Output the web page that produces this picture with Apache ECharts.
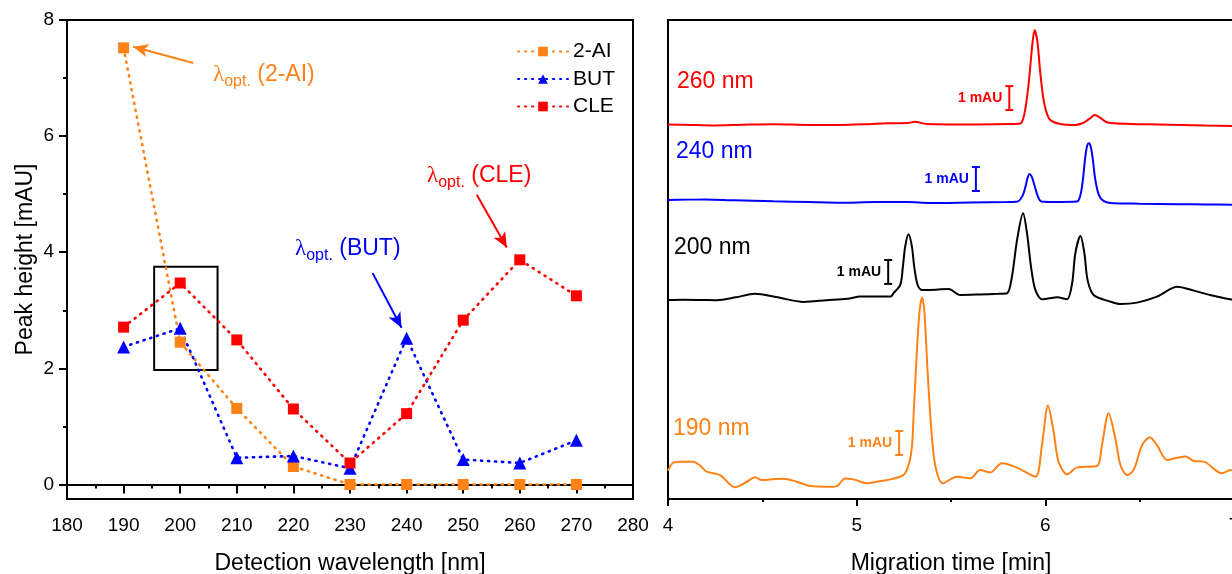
<!DOCTYPE html>
<html><head><meta charset="utf-8">
<script src="https://cdn.jsdelivr.net/npm/echarts@6/dist/echarts.min.js"></script>
<style>html,body{margin:0;padding:0;background:#fff}#c{width:1232px;height:574px}</style>
</head><body><div id="c"></div>
<script>
// ---------- Left panel data ----------
const wavelengths = [190, 200, 210, 220, 230, 240, 250, 260, 270];
const ai2 = [7.52, 2.45, 1.31, 0.31, 0.0, 0.0, 0.0, 0.0, 0.0];
const but = [2.37, 2.69, 0.46, 0.49, 0.28, 2.52, 0.43, 0.37, 0.76];
const cle = [2.71, 3.47, 2.49, 1.30, 0.37, 1.22, 2.83, 3.87, 3.25];
const yTickValues = [0, 2, 4, 6, 8];
const yMinorValues = [1, 3, 5, 7];
// annotation arrows (data coords) [from, to]
const arrowAI = [[202.3, 7.26], [191.7, 7.54]];
const arrowBUT = [[234.0, 3.64], [239.1, 2.70]];
const arrowCLE = [[252.4, 4.99], [257.7, 4.08]];
const boxArea = [[195.4, 1.97], [206.6, 3.75]];

// ---------- Right panel data (time [min], signal incl. offset [mAU]) ----------
const trace260 = [[4.00,15.64],[4.12,15.62],[4.23,15.60],[4.40,15.63],[4.56,15.65],[4.75,15.62],[4.91,15.62],[5.05,15.65],[5.16,15.69],[5.27,15.70],[5.31,15.75],[5.37,15.66],[5.60,15.64],[5.80,15.66],[5.867,15.68],[5.885,15.95],[5.90,16.6],[5.915,17.6],[5.93,18.9],[5.943,19.58],[5.958,19.1],[5.972,17.9],[5.99,16.7],[6.01,16.05],[6.03,15.80],[6.08,15.66],[6.16,15.62],[6.20,15.70],[6.235,15.88],[6.262,16.03],[6.29,15.92],[6.33,15.72],[6.45,15.66],[6.60,15.64],[6.72,15.62],[6.85,15.59],[7.00,15.57]];
const trace240 = [[4.00,12.48],[4.10,12.50],[4.20,12.51],[4.35,12.47],[4.56,12.43],[4.75,12.40],[4.91,12.37],[5.10,12.40],[5.27,12.40],[5.39,12.36],[5.60,12.38],[5.80,12.40],[5.853,12.42],[5.881,12.69],[5.897,13.11],[5.907,13.44],[5.917,13.57],[5.929,13.44],[5.942,13.11],[5.958,12.69],[5.979,12.42],[6.05,12.40],[6.168,12.42],[6.186,12.69],[6.199,13.32],[6.210,14.16],[6.220,14.70],[6.230,14.85],[6.241,14.70],[6.252,14.16],[6.265,13.32],[6.284,12.69],[6.308,12.45],[6.345,12.36],[6.50,12.33],[6.70,12.31],[6.85,12.30],[7.00,12.28]];
const trace200 = [[4.00,8.31],[4.08,8.32],[4.18,8.31],[4.26,8.30],[4.36,8.42],[4.46,8.57],[4.58,8.42],[4.72,8.23],[4.84,8.30],[4.95,8.36],[5.02,8.45],[5.10,8.46],[5.18,8.45],[5.195,8.59],[5.231,8.94],[5.245,9.70],[5.257,10.53],[5.275,11.05],[5.293,10.53],[5.305,9.70],[5.323,8.94],[5.346,8.73],[5.42,8.74],[5.487,8.77],[5.549,8.52],[5.65,8.54],[5.75,8.57],[5.797,8.59],[5.823,9.28],[5.850,10.81],[5.882,11.93],[5.903,11.09],[5.924,9.70],[5.947,8.73],[5.982,8.34],[6.02,8.38],[6.062,8.42],[6.115,8.34],[6.142,9.01],[6.159,10.26],[6.186,10.98],[6.207,10.26],[6.224,9.14],[6.256,8.52],[6.345,8.24],[6.398,8.14],[6.486,8.20],[6.592,8.45],[6.699,8.86],[6.787,8.70],[6.873,8.52],[6.979,8.34],[7.00,8.32]];
const trace190 = [[4.00,1.18],[4.028,1.52],[4.08,1.56],[4.134,1.56],[4.17,1.40],[4.205,1.14],[4.276,1.00],[4.355,0.49],[4.418,0.72],[4.462,0.91],[4.497,0.79],[4.55,0.82],[4.612,0.85],[4.683,0.72],[4.754,0.54],[4.859,0.51],[4.895,0.54],[4.939,0.86],[4.983,0.82],[5.054,0.66],[5.107,0.72],[5.178,0.82],[5.248,1.00],[5.275,1.42],[5.293,2.2],[5.301,3.37],[5.319,6.15],[5.333,7.82],[5.347,8.41],[5.359,7.82],[5.375,5.46],[5.394,3.09],[5.416,1.42],[5.457,0.66],[5.531,0.93],[5.602,0.86],[5.655,1.21],[5.708,1.11],[5.770,1.49],[5.850,1.31],[5.947,0.93],[5.982,2.25],[6.014,3.90],[6.044,2.81],[6.070,1.56],[6.115,1.03],[6.168,1.32],[6.274,1.38],[6.300,2.25],[6.335,3.58],[6.371,2.53],[6.398,1.42],[6.433,1.00],[6.468,1.21],[6.513,2.25],[6.553,2.58],[6.592,2.25],[6.645,1.63],[6.70,1.72],[6.743,1.77],[6.787,1.59],[6.840,1.56],[6.937,1.07],[6.981,1.21],[7.00,1.18]];
// 1 mAU scale bars: time, bottom value
const scaleBarTime = [5.809, 5.632, 5.167, 5.225];
const scaleBarBase = [16.24, 12.86, 8.98, 1.84];

const ORANGE = '#FF8217', BLUE = '#0000FF', RED = '#FF0000', BLACK = '#000000';
const scaleBarColors = [RED, BLUE, BLACK, ORANGE];
const FONT = '"Liberation Sans", Arial, sans-serif';
const DOTS = [1.2, 5.8];

const chart = echarts.init(document.getElementById('c'), null, {renderer: 'canvas'});

function pts(ys) { return wavelengths.map((w, i) => [w, ys[i]]); }
function arrow(a, color) {
  return {
    silent: true, symbol: ['none', 'arrow'], symbolSize: [10, 15],
    lineStyle: {type: 'solid', width: 2, color: color, cap: 'butt'},
    label: {show: false}, emphasis: {disabled: true},
    data: [[{coord: a[0]}, {coord: a[1]}]]
  };
}
function lambdaLabel(x, y, name, color) {
  return {
    type: 'text', x: x, y: y, z: 100,
    style: {
      text: '{l|λ}{s|opt.}{t| ' + name + '}',
      fill: color, font: '23px ' + FONT,
      align: 'left', verticalAlign: 'middle', textAlign: 'left', textVerticalAlign: 'middle',
      rich: {
        l: {fontSize: 23, fontFamily: '"Liberation Serif", serif', lineHeight: 30},
        s: {fontSize: 16, fontFamily: FONT, lineHeight: 14, verticalAlign: 'bottom'},
        t: {fontSize: 23, fontFamily: FONT, lineHeight: 30}
      }
    }
  };
}
function traceLabel(x, y, txt, color) {
  return {type: 'text', x: x, y: y, z: 100,
    style: {text: txt, fill: color, font: '23px ' + FONT, align: 'left', verticalAlign: 'middle', textAlign: 'left', textVerticalAlign: 'middle'}};
}
const axisLineStyle = {color: '#000', width: 2};

const option = {
  animation: false,
  backgroundColor: '#fff',
  textStyle: {fontFamily: FONT},
  grid: [
    {left: 67, top: 20, width: 566, height: 479, show: true, borderColor: '#000', borderWidth: 2, backgroundColor: 'transparent', outerBoundsMode: 'none', containLabel: false},
    {left: 668, top: 20, width: 566, height: 479, show: true, borderColor: '#000', borderWidth: 2, backgroundColor: 'transparent', outerBoundsMode: 'none', containLabel: false}
  ],
  legend: {
    data: ['2-AI', 'BUT', 'CLE'], orient: 'vertical', left: 517, top: 41, padding: 0,
    itemWidth: 50, itemHeight: 12, itemGap: 6.5,
    textStyle: {fontSize: 21, color: '#000', fontFamily: FONT}
  },
  xAxis: [
    {gridIndex: 0, type: 'value', min: 180, max: 280, interval: 10,
     axisLine: {lineStyle: axisLineStyle}, axisTick: {length: 9, lineStyle: {width: 2, color: '#000'}},
     minorTick: {show: true, splitNumber: 2, length: 4, lineStyle: {width: 2, color: '#000'}},
     splitLine: {show: false}, minorSplitLine: {show: false},
     axisLabel: {fontSize: 19, color: '#000', margin: 17, fontFamily: FONT},
     name: 'Detection wavelength [nm]', nameLocation: 'middle', nameGap: 53,
     nameTextStyle: {fontSize: 23, color: '#000', fontFamily: FONT}},
    {gridIndex: 1, type: 'value', min: 4, max: 7, interval: 1,
     axisLine: {lineStyle: axisLineStyle}, axisTick: {length: 7, lineStyle: {width: 2, color: '#000'}},
     minorTick: {show: true, splitNumber: 2, length: 3, lineStyle: {width: 2, color: '#000'}},
     splitLine: {show: false}, minorSplitLine: {show: false},
     axisLabel: {fontSize: 19, color: '#000', margin: 17, fontFamily: FONT},
     name: 'Migration time [min]', nameLocation: 'middle', nameGap: 53,
     nameTextStyle: {fontSize: 23, color: '#000', fontFamily: FONT}}
  ],
  yAxis: [
    {gridIndex: 0, type: 'value', min: -0.25, max: 8,
     axisLine: {show: true, lineStyle: axisLineStyle},
     axisTick: {show: true, length: 8, customValues: yTickValues, lineStyle: {width: 2, color: '#000'}},
     axisLabel: {customValues: yTickValues, fontSize: 19, color: '#000', margin: 13, fontFamily: FONT},
     splitLine: {show: false},
     name: 'Peak height [mAU]', nameLocation: 'middle', nameGap: 30,
     nameTextStyle: {fontSize: 23, color: '#000', fontFamily: FONT}},
    {gridIndex: 0, type: 'value', min: -0.25, max: 8, position: 'left',
     axisLine: {show: false}, axisLabel: {show: false}, splitLine: {show: false},
     axisTick: {show: true, length: 4, customValues: yMinorValues, lineStyle: {width: 2, color: '#000'}}},
    {gridIndex: 1, type: 'value', min: 0, max: 20,
     axisLine: {show: true, lineStyle: axisLineStyle}, axisTick: {show: false},
     axisLabel: {show: false}, splitLine: {show: false}}
  ],
  graphic: [
    lambdaLabel(213, 75, '(2-AI)', ORANGE),
    lambdaLabel(295, 249, '(BUT)', BLUE),
    lambdaLabel(427, 176, '(CLE)', RED),
    traceLabel(677, 82, '260 nm', RED),
    traceLabel(676, 152, '240 nm', BLUE),
    traceLabel(674, 248, '200 nm', BLACK),
    traceLabel(673, 429, '190 nm', ORANGE)
  ],
  series: [
    {name: '2-AI', type: 'line', xAxisIndex: 0, yAxisIndex: 0, data: pts(ai2),
     symbol: 'rect', symbolSize: 11, color: ORANGE,
     lineStyle: {type: DOTS, width: 2.6, cap: 'round', color: ORANGE}, itemStyle: {color: ORANGE},
     markLine: arrow(arrowAI, ORANGE)},
    {name: 'BUT', type: 'line', xAxisIndex: 0, yAxisIndex: 0, data: pts(but),
     symbol: 'triangle', symbolSize: 13, color: BLUE,
     lineStyle: {type: DOTS, width: 2.6, cap: 'round', color: BLUE}, itemStyle: {color: BLUE},
     markLine: arrow(arrowBUT, BLUE)},
    {name: 'CLE', type: 'line', xAxisIndex: 0, yAxisIndex: 0, data: pts(cle),
     symbol: 'rect', symbolSize: 11, color: RED,
     lineStyle: {type: DOTS, width: 2.6, cap: 'round', color: RED}, itemStyle: {color: RED},
     markLine: arrow(arrowCLE, RED),
     markArea: {silent: true, itemStyle: {color: 'rgba(0,0,0,0)', borderColor: '#000', borderWidth: 2},
       label: {show: false}, emphasis: {disabled: true},
       data: [[{coord: boxArea[0]}, {coord: boxArea[1]}]]}},
    {name: '260 nm', type: 'line', xAxisIndex: 1, yAxisIndex: 2, data: trace260, showSymbol: false, symbol: 'none',
     smooth: 0.3, lineStyle: {width: 2, color: RED}, color: RED},
    {name: '240 nm', type: 'line', xAxisIndex: 1, yAxisIndex: 2, data: trace240, showSymbol: false, symbol: 'none',
     smooth: 0.3, lineStyle: {width: 2, color: BLUE}, color: BLUE},
    {name: '200 nm', type: 'line', xAxisIndex: 1, yAxisIndex: 2, data: trace200, showSymbol: false, symbol: 'none',
     smooth: 0.3, lineStyle: {width: 2, color: BLACK}, color: BLACK},
    {name: '190 nm', type: 'line', xAxisIndex: 1, yAxisIndex: 2, data: trace190, showSymbol: false, symbol: 'none',
     smooth: 0.3, lineStyle: {width: 2, color: ORANGE}, color: ORANGE},
    {name: 'scale', type: 'custom', xAxisIndex: 1, yAxisIndex: 2, silent: true,
     data: scaleBarTime.map((t, i) => [t, scaleBarBase[i]]),
     renderItem: function (params, api) {
       const t = api.value(0), v = api.value(1);
       const a = api.coord([t, v]), b = api.coord([t, v + 1]);
       const c = scaleBarColors[params.dataIndex];
       const cap = 4;
       return {type: 'group', children: [
         {type: 'line', shape: {x1: a[0], y1: a[1], x2: b[0], y2: b[1]}, style: {stroke: c, lineWidth: 2}},
         {type: 'line', shape: {x1: a[0] - cap, y1: a[1], x2: a[0] + cap, y2: a[1]}, style: {stroke: c, lineWidth: 2}},
         {type: 'line', shape: {x1: b[0] - cap, y1: b[1], x2: b[0] + cap, y2: b[1]}, style: {stroke: c, lineWidth: 2}},
         {type: 'text', x: a[0] - 7, y: (a[1] + b[1]) / 2,
          style: {text: '1 mAU', fill: c, font: 'bold 14px ' + FONT, align: 'right', verticalAlign: 'middle', textAlign: 'right', textVerticalAlign: 'middle'}}
       ]};
     }}
  ]
};
chart.setOption(option);
</script></body></html>
